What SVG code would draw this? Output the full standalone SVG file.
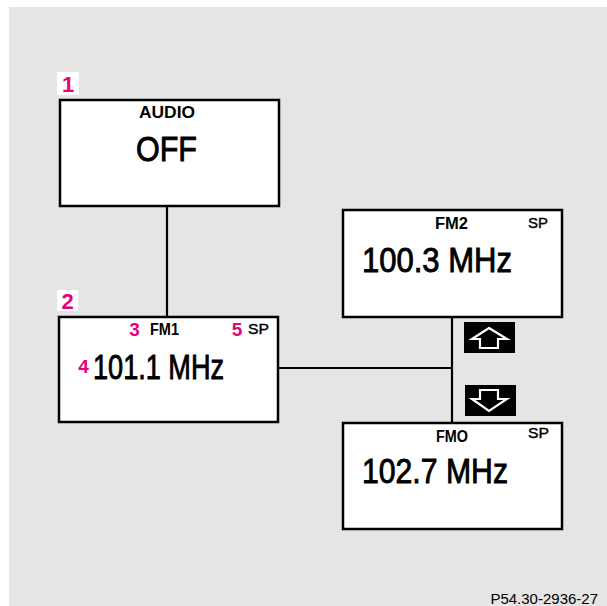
<svg xmlns="http://www.w3.org/2000/svg" width="607" height="606" viewBox="0 0 607 606">
<style>
.box{fill:#fff;stroke:#000;stroke-width:2.5}
.ln{fill:none;stroke:#000;stroke-width:2.2}
.t{font-family:"Liberation Sans",Arial,sans-serif;fill:#000}
.sm{font-size:16px;font-weight:bold}
.sp{font-size:15px;stroke:#000;stroke-width:0.4}
.big{font-size:35px;stroke:#000;stroke-width:0.9}
.pk{font-family:"Liberation Sans",Arial,sans-serif;font-weight:bold;fill:#e6007e}
.btn{fill:#000}
.arr{fill:none;stroke:#fff;stroke-width:2.2;stroke-linejoin:miter}
</style>
<rect x="9" y="7" width="598" height="599" fill="#e5e5e5"/>
<g id="connectors">
<line class="ln" x1="167" y1="206" x2="167" y2="317"/>
<line class="ln" x1="278" y1="368" x2="452" y2="368"/>
<line class="ln" x1="452" y1="317" x2="452" y2="423"/>
</g>
<g id="node1">
<rect x="57" y="72" width="22" height="23" fill="#fff"/>
<text class="pk" x="68" y="92" font-size="22" text-anchor="middle">1</text>
<rect class="box" x="60" y="100" width="219" height="106"/>
<text class="t sm" x="167" y="118" text-anchor="middle" textLength="56" lengthAdjust="spacingAndGlyphs">AUDIO</text>
<text class="t big" x="166.5" y="161" text-anchor="middle" textLength="61" lengthAdjust="spacingAndGlyphs">OFF</text>
</g>
<g id="node2">
<rect x="57" y="290" width="21" height="21" fill="#fff"/>
<text class="pk" x="67.5" y="309" font-size="22" text-anchor="middle">2</text>
<rect class="box" x="59" y="317" width="219" height="105"/>
<text class="pk" x="134.5" y="336" font-size="19" text-anchor="middle">3</text>
<text class="t sm" x="150" y="335" textLength="29" lengthAdjust="spacingAndGlyphs">FM1</text>
<text class="pk" x="237" y="336" font-size="19" text-anchor="middle">5</text>
<text class="t sp" x="248" y="334" textLength="21" lengthAdjust="spacingAndGlyphs">SP</text>
<text class="pk" x="83.5" y="373" font-size="19" text-anchor="middle">4</text>
<text class="t big" x="93" y="379" textLength="131" lengthAdjust="spacingAndGlyphs">101.1 MHz</text>
</g>
<g id="node3">
<rect class="box" x="343" y="210" width="219" height="107"/>
<text class="t sm" x="435" y="229" textLength="33" lengthAdjust="spacingAndGlyphs">FM2</text>
<text class="t sp" x="528" y="228" textLength="20" lengthAdjust="spacingAndGlyphs">SP</text>
<text class="t big" x="362" y="272" textLength="150" lengthAdjust="spacingAndGlyphs">100.3 MHz</text>
</g>
<g id="node4">
<rect class="box" x="343" y="423" width="219" height="106"/>
<text class="t sm" x="436" y="442" textLength="32" lengthAdjust="spacingAndGlyphs">FMO</text>
<text class="t sp" x="528" y="438" textLength="21" lengthAdjust="spacingAndGlyphs">SP</text>
<text class="t big" x="362" y="483" textLength="146" lengthAdjust="spacingAndGlyphs">102.7 MHz</text>
</g>
<g id="btn-up">
<rect class="btn" x="464" y="322" width="51" height="31"/>
<path class="arr" d="M489,328 L507,339 L498,339 L498,348 L480,348 L480,339 L472,339 Z"/>
</g>
<g id="btn-down">
<rect class="btn" x="465" y="385" width="51" height="31"/>
<path class="arr" d="M480,390 L498,390 L498,399 L507,399 L489,411 L472,399 L480,399 Z"/>
</g>
<text class="t" x="598" y="604" font-size="15" text-anchor="end">P54.30-2936-27</text>
</svg>
